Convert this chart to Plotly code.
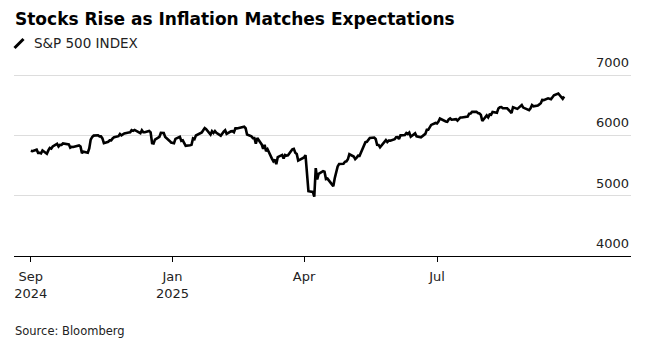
import plotly.graph_objects as go

# S&P 500 daily closes, one year of sessions
session_dates = [
    "2024-09-26", "2024-09-27", "2024-09-30",
    "2024-10-01", "2024-10-02", "2024-10-03", "2024-10-04", "2024-10-07", "2024-10-08", "2024-10-09",
    "2024-10-10", "2024-10-11", "2024-10-14", "2024-10-15", "2024-10-16", "2024-10-17", "2024-10-18",
    "2024-10-21", "2024-10-22", "2024-10-23", "2024-10-24", "2024-10-25", "2024-10-28", "2024-10-29",
    "2024-10-30", "2024-10-31",
    "2024-11-01", "2024-11-04", "2024-11-05", "2024-11-06", "2024-11-07", "2024-11-08", "2024-11-11",
    "2024-11-12", "2024-11-13", "2024-11-14", "2024-11-15", "2024-11-18", "2024-11-19", "2024-11-20",
    "2024-11-21", "2024-11-22", "2024-11-25", "2024-11-26", "2024-11-27", "2024-11-29",
    "2024-12-02", "2024-12-03", "2024-12-04", "2024-12-05", "2024-12-06", "2024-12-09", "2024-12-10",
    "2024-12-11", "2024-12-12", "2024-12-13", "2024-12-16", "2024-12-17", "2024-12-18", "2024-12-19",
    "2024-12-20", "2024-12-23", "2024-12-24", "2024-12-26", "2024-12-27", "2024-12-30", "2024-12-31",
    "2025-01-02", "2025-01-03", "2025-01-06", "2025-01-07", "2025-01-08", "2025-01-10", "2025-01-13",
    "2025-01-14", "2025-01-15", "2025-01-16", "2025-01-17", "2025-01-21", "2025-01-22", "2025-01-23",
    "2025-01-24", "2025-01-27", "2025-01-28", "2025-01-29", "2025-01-30", "2025-01-31",
    "2025-02-03", "2025-02-04", "2025-02-05", "2025-02-06", "2025-02-07", "2025-02-10", "2025-02-11",
    "2025-02-12", "2025-02-13", "2025-02-14", "2025-02-18", "2025-02-19", "2025-02-20", "2025-02-21",
    "2025-02-24", "2025-02-25", "2025-02-26", "2025-02-27", "2025-02-28",
    "2025-03-03", "2025-03-04", "2025-03-05", "2025-03-06", "2025-03-07", "2025-03-10", "2025-03-11",
    "2025-03-12", "2025-03-13", "2025-03-14", "2025-03-17", "2025-03-18", "2025-03-19", "2025-03-20",
    "2025-03-21", "2025-03-24", "2025-03-25", "2025-03-26", "2025-03-27", "2025-03-28", "2025-03-31",
    "2025-04-01", "2025-04-02", "2025-04-03", "2025-04-04", "2025-04-07", "2025-04-08", "2025-04-09",
    "2025-04-10", "2025-04-11", "2025-04-14", "2025-04-15", "2025-04-16", "2025-04-17", "2025-04-21",
    "2025-04-22", "2025-04-23", "2025-04-24", "2025-04-25", "2025-04-28", "2025-04-29", "2025-04-30",
    "2025-05-01", "2025-05-02", "2025-05-05", "2025-05-06", "2025-05-07", "2025-05-08", "2025-05-09",
    "2025-05-12", "2025-05-13", "2025-05-14", "2025-05-15", "2025-05-16", "2025-05-19", "2025-05-20",
    "2025-05-21", "2025-05-22", "2025-05-23", "2025-05-27", "2025-05-28", "2025-05-29", "2025-05-30",
    "2025-06-02", "2025-06-03", "2025-06-04", "2025-06-05", "2025-06-06", "2025-06-09", "2025-06-10",
    "2025-06-11", "2025-06-12", "2025-06-13", "2025-06-16", "2025-06-17", "2025-06-18", "2025-06-20",
    "2025-06-23", "2025-06-24", "2025-06-25", "2025-06-26", "2025-06-27", "2025-06-30",
    "2025-07-01", "2025-07-02", "2025-07-03", "2025-07-07", "2025-07-08", "2025-07-09", "2025-07-10",
    "2025-07-11", "2025-07-14", "2025-07-15", "2025-07-16", "2025-07-17", "2025-07-18", "2025-07-21",
    "2025-07-22", "2025-07-23", "2025-07-24", "2025-07-25", "2025-07-28", "2025-07-29", "2025-07-30",
    "2025-07-31",
    "2025-08-01", "2025-08-04", "2025-08-05", "2025-08-06", "2025-08-07", "2025-08-08", "2025-08-11",
    "2025-08-12", "2025-08-13", "2025-08-14", "2025-08-15", "2025-08-18", "2025-08-19", "2025-08-20",
    "2025-08-21", "2025-08-22", "2025-08-25", "2025-08-26", "2025-08-27", "2025-08-28", "2025-08-29",
    "2025-09-02", "2025-09-03", "2025-09-04", "2025-09-05", "2025-09-08", "2025-09-09", "2025-09-10",
    "2025-09-11", "2025-09-12", "2025-09-15", "2025-09-16", "2025-09-17", "2025-09-18", "2025-09-19",
    "2025-09-22", "2025-09-23", "2025-09-24", "2025-09-25", "2025-09-26",
]

closes = [
    5745, 5738, 5762,
    5709, 5710, 5700, 5751, 5696, 5751, 5792,
    5780, 5815, 5860, 5815, 5842, 5841, 5865,
    5854, 5851, 5797, 5810, 5808, 5824, 5833,
    5814, 5705,
    5729, 5713, 5783, 5929, 5973, 5996, 6001,
    5984, 5985, 5949, 5871, 5894, 5917, 5917,
    5949, 5969, 5987, 6022, 5999, 6032,
    6047, 6050, 6086, 6075, 6090, 6053, 6035,
    6084, 6051, 6051, 6074, 6051, 5872, 5867,
    5931, 5974, 6040, 6038, 5971, 5907, 5882,
    5869, 5942, 5975, 5909, 5918, 5827, 5836,
    5843, 5950, 5937, 5997, 6049, 6086, 6119,
    6101, 6012, 6068, 6039, 6071, 6041,
    5995, 6038, 6061, 6084, 6026, 6066, 6069,
    6052, 6115, 6115, 6130, 6144, 6118, 6013,
    5983, 5955, 5956, 5862, 5955,
    5850, 5778, 5843, 5739, 5770, 5615, 5572,
    5599, 5522, 5639, 5675, 5615, 5675, 5663,
    5668, 5768, 5777, 5712, 5693, 5581, 5612,
    5633, 5671, 5397, 5074, 5062, 4983, 5457,
    5268, 5363, 5406, 5397, 5276, 5283, 5158,
    5288, 5376, 5485, 5525, 5529, 5561, 5569,
    5604, 5687, 5650, 5607, 5631, 5664, 5660,
    5844, 5887, 5893, 5917, 5958, 5964, 5940,
    5845, 5842, 5803, 5922, 5889, 5912, 5912,
    5936, 5970, 5971, 5939, 6000, 6006, 6039,
    6022, 6045, 5977, 6033, 5983, 5981, 5968,
    6025, 6092, 6092, 6141, 6173, 6205,
    6198, 6227, 6279, 6230, 6226, 6263, 6280,
    6260, 6269, 6244, 6264, 6297, 6297, 6306,
    6310, 6359, 6363, 6389, 6390, 6371, 6363,
    6339,
    6238, 6330, 6299, 6345, 6340, 6389, 6373,
    6446, 6467, 6469, 6450, 6449, 6411, 6396,
    6370, 6467, 6439, 6466, 6481, 6502, 6460,
    6416, 6448, 6502, 6482, 6495, 6513, 6532,
    6587, 6584, 6615, 6607, 6600, 6632, 6664,
    6694, 6657, 6638, 6605, 6644,
]

x_tick_dates = ["2024-09-26", "2025-01-01", "2025-04-01", "2025-07-01"]
x_tick_labels = ["Sep<br>2024", "Jan<br>2025", "Apr", "Jul"]
y_tick_values = [4000, 5000, 6000, 7000]

title_text = "Stocks Rise as Inflation Matches Expectations"
series_name = "S&P 500 INDEX"
source_text = "Source: Bloomberg"

FONT = "DejaVu Sans, Liberation Sans, sans-serif"
TEXT_COLOR = "#222222"

fig = go.Figure()
fig.add_trace(go.Scatter(
    x=session_dates, y=closes, mode="lines", name=series_name,
    line=dict(color="#000000", width=2.6), hoverinfo="skip",
))

W, H = 663, 346
L, R, T, B = 14, 32, 69, 90
plot_w = W - L - R
plot_h = H - T - B

def py(pixel_y):
    # convert a pixel row to paper coordinates
    return (H - B - pixel_y) / plot_h

annotations = [
    dict(text="<b>" + title_text + "</b>", xref="paper", yref="paper", x=-1 / plot_w, y=py(18.5),
         xanchor="left", yanchor="middle", showarrow=False,
         font=dict(family=FONT, size=17, color="#000000")),
    dict(text=series_name, xref="paper", yref="paper", x=18 / plot_w, y=py(43.5),
         xanchor="left", yanchor="middle", showarrow=False,
         font=dict(family=FONT, size=13.5, color=TEXT_COLOR)),
    dict(text=source_text, xref="paper", yref="paper", x=-1 / plot_w, y=py(330.5),
         xanchor="left", yanchor="middle", showarrow=False,
         font=dict(family=FONT, size=11.5, color=TEXT_COLOR)),
]
for v in y_tick_values:
    annotations.append(dict(
        text=str(v), xref="paper", yref="y", x=1, y=v, xanchor="right", yanchor="bottom",
        yshift=3, showarrow=False, font=dict(family=FONT, size=13, color=TEXT_COLOR),
    ))

# diagonal stroke used as the series key
shapes = [dict(type="line", xref="paper", yref="paper",
               x0=0.5 / plot_w, y0=py(48), x1=9.5 / plot_w, y1=py(39),
               line=dict(color="#000000", width=3))]

fig.update_layout(
    width=W, height=H,
    margin=dict(l=L, r=R, t=T, b=B, pad=0),
    paper_bgcolor="#ffffff", plot_bgcolor="#ffffff",
    showlegend=False,
    annotations=annotations, shapes=shapes,
    font=dict(family=FONT, size=13, color=TEXT_COLOR),
    xaxis=dict(
        type="date", range=["2024-09-14 12:00", "2025-11-10 18:00"],
        tickvals=x_tick_dates, ticktext=x_tick_labels,
        ticks="outside", ticklen=5, tickwidth=1, tickcolor="#000000",
        ticklabelstandoff=3,
        showgrid=False, showline=True, linecolor="#000000", linewidth=1.2,
        zeroline=False, tickfont=dict(family=FONT, size=13, color=TEXT_COLOR),
        fixedrange=True,
    ),
    yaxis=dict(
        range=[4000, 7100], tickvals=y_tick_values, showticklabels=False,
        showgrid=True, gridcolor="#dddddd", gridwidth=1,
        zeroline=False, showline=False, fixedrange=True,
    ),
)

fig.write_html("out.html", config={"displayModeBar": False})
